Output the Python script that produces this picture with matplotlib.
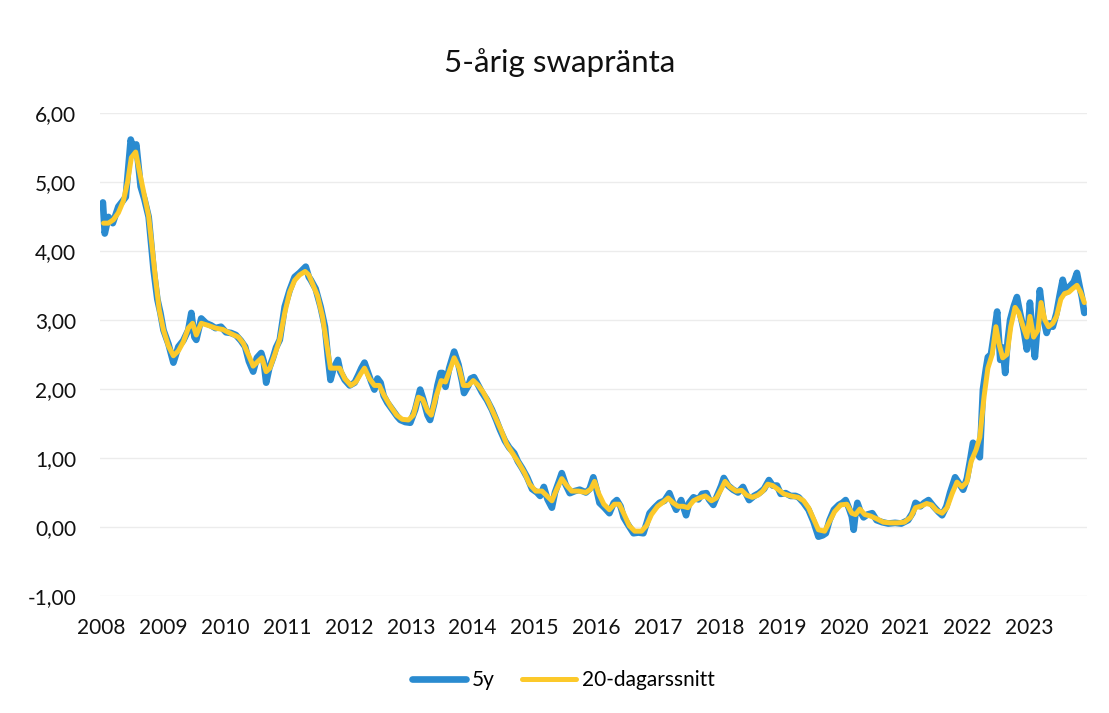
import matplotlib
matplotlib.use("Agg")
import matplotlib.pyplot as plt
from matplotlib.ticker import FuncFormatter

plt.rcParams.update({'font.family': ['Lato', 'DejaVu Sans'], 'font.size': 15})

# 5-year swap rate (decimal year, percent)
swap_years = [
    2008.02, 2008.05, 2008.11, 2008.18, 2008.27, 2008.34, 2008.39, 2008.43, 2008.47, 2008.52,
    2008.56, 2008.63, 2008.69, 2008.76, 2008.81, 2008.84, 2008.90, 2008.95, 2009.00, 2009.08,
    2009.16, 2009.24, 2009.32, 2009.40, 2009.45, 2009.50, 2009.53, 2009.61, 2009.69, 2009.77,
    2009.84, 2009.93, 2010.01, 2010.09, 2010.17, 2010.25, 2010.32, 2010.38, 2010.45, 2010.51,
    2010.58, 2010.62, 2010.66, 2010.71, 2010.77, 2010.82, 2010.88, 2010.96, 2011.04, 2011.12,
    2011.20, 2011.30, 2011.35, 2011.38, 2011.46, 2011.54, 2011.61, 2011.66, 2011.70, 2011.75,
    2011.82, 2011.86, 2011.93, 2012.01, 2012.09, 2012.15, 2012.20, 2012.25, 2012.32, 2012.36,
    2012.41, 2012.46, 2012.51, 2012.56, 2012.62, 2012.70, 2012.78, 2012.83, 2012.91, 2012.99,
    2013.07, 2013.15, 2013.20, 2013.27, 2013.31, 2013.38, 2013.43, 2013.48, 2013.51, 2013.56,
    2013.62, 2013.70, 2013.77, 2013.83, 2013.86, 2013.93, 2013.97, 2014.02, 2014.09, 2014.15,
    2014.23, 2014.31, 2014.38, 2014.44, 2014.52, 2014.59, 2014.67, 2014.73, 2014.80, 2014.88,
    2014.96, 2015.04, 2015.09, 2015.15, 2015.21, 2015.28, 2015.33, 2015.39, 2015.44, 2015.50,
    2015.57, 2015.65, 2015.73, 2015.83, 2015.89, 2015.95, 2016.00, 2016.05, 2016.13, 2016.21,
    2016.28, 2016.33, 2016.39, 2016.44, 2016.50, 2016.57, 2016.60, 2016.68, 2016.76, 2016.81,
    2016.86, 2016.94, 2017.02, 2017.10, 2017.18, 2017.24, 2017.29, 2017.37, 2017.45, 2017.50,
    2017.57, 2017.65, 2017.71, 2017.78, 2017.82, 2017.89, 2017.95, 2018.02, 2018.06, 2018.13,
    2018.21, 2018.29, 2018.37, 2018.42, 2018.47, 2018.55, 2018.63, 2018.71, 2018.79, 2018.85,
    2018.92, 2018.98, 2019.06, 2019.14, 2019.22, 2019.27, 2019.35, 2019.43, 2019.51, 2019.59,
    2019.66, 2019.71, 2019.77, 2019.84, 2019.92, 2019.98, 2020.03, 2020.08, 2020.13, 2020.16,
    2020.19, 2020.22, 2020.27, 2020.32, 2020.38, 2020.46, 2020.53, 2020.62, 2020.72, 2020.83,
    2020.93, 2021.04, 2021.11, 2021.16, 2021.24, 2021.30, 2021.37, 2021.45, 2021.53, 2021.59,
    2021.66, 2021.72, 2021.80, 2021.85, 2021.93, 2021.99, 2022.04, 2022.09, 2022.14, 2022.20,
    2022.25, 2022.30, 2022.33, 2022.38, 2022.43, 2022.48, 2022.53, 2022.57, 2022.61, 2022.65,
    2022.69, 2022.75, 2022.80, 2022.85, 2022.91, 2022.96, 2023.01, 2023.06, 2023.09, 2023.14,
    2023.17, 2023.22, 2023.28, 2023.33, 2023.38, 2023.44, 2023.49, 2023.54, 2023.59, 2023.65,
    2023.72, 2023.77, 2023.81, 2023.85, 2023.89,
]
swap_5y = [
    4.70, 4.25, 4.49, 4.40, 4.64, 4.72, 4.78, 5.20, 5.61, 5.45,
    5.54, 4.93, 4.75, 4.49, 4.00, 3.72, 3.30, 3.10, 2.85, 2.65,
    2.38, 2.61, 2.70, 2.85, 3.10, 2.75, 2.71, 3.02, 2.95, 2.92,
    2.88, 2.90, 2.82, 2.81, 2.78, 2.70, 2.61, 2.40, 2.25, 2.45,
    2.52, 2.40, 2.09, 2.30, 2.45, 2.60, 2.71, 3.19, 3.43, 3.62,
    3.68, 3.77, 3.62, 3.58, 3.45, 3.19, 2.90, 2.45, 2.13, 2.30,
    2.42, 2.25, 2.13, 2.05, 2.09, 2.20, 2.30, 2.38, 2.20, 2.10,
    1.99, 2.15, 2.09, 1.90, 1.80, 1.70, 1.60, 1.55, 1.52, 1.51,
    1.70, 1.99, 1.85, 1.62, 1.55, 1.80, 2.05, 2.23, 2.23, 2.03,
    2.30, 2.54, 2.35, 2.10, 1.94, 2.05, 2.15, 2.17, 2.05, 1.95,
    1.84, 1.70, 1.55, 1.41, 1.25, 1.15, 1.07, 0.95, 0.85, 0.72,
    0.55, 0.50, 0.45, 0.58, 0.40, 0.28, 0.50, 0.65, 0.78, 0.62,
    0.49, 0.52, 0.54, 0.50, 0.55, 0.72, 0.55, 0.35, 0.28, 0.20,
    0.35, 0.39, 0.30, 0.14, 0.05, -0.05, -0.09, -0.08, -0.09, 0.05,
    0.20, 0.28, 0.35, 0.38, 0.49, 0.35, 0.25, 0.39, 0.17, 0.35,
    0.43, 0.40, 0.48, 0.49, 0.40, 0.32, 0.45, 0.60, 0.71, 0.60,
    0.54, 0.50, 0.58, 0.48, 0.39, 0.45, 0.49, 0.55, 0.68, 0.60,
    0.60, 0.48, 0.49, 0.45, 0.45, 0.43, 0.35, 0.25, 0.08, -0.14,
    -0.12, -0.09, 0.10, 0.25, 0.32, 0.35, 0.39, 0.28, 0.15, -0.04,
    0.20, 0.35, 0.22, 0.14, 0.18, 0.20, 0.10, 0.07, 0.05, 0.06,
    0.05, 0.10, 0.20, 0.35, 0.30, 0.35, 0.39, 0.30, 0.22, 0.17,
    0.30, 0.50, 0.72, 0.65, 0.54, 0.70, 0.95, 1.22, 1.10, 1.01,
    1.99, 2.30, 2.46, 2.50, 2.80, 3.12, 2.42, 2.60, 2.23, 2.70,
    3.00, 3.20, 3.33, 3.10, 2.85, 2.57, 3.25, 2.70, 2.46, 3.00,
    3.43, 3.05, 2.81, 2.95, 2.90, 3.10, 3.35, 3.58, 3.40, 3.48,
    3.55, 3.68, 3.50, 3.33, 3.10,
]

# 20-day average
avg_years = [
    2008.03, 2008.11, 2008.19, 2008.27, 2008.35, 2008.42, 2008.48, 2008.55, 2008.61, 2008.69,
    2008.76, 2008.81, 2008.87, 2008.93, 2009.00, 2009.08, 2009.16, 2009.24, 2009.32, 2009.40,
    2009.47, 2009.53, 2009.61, 2009.72, 2009.84, 2009.96, 2010.09, 2010.21, 2010.29, 2010.37,
    2010.45, 2010.53, 2010.59, 2010.66, 2010.72, 2010.80, 2010.88, 2010.96, 2011.04, 2011.12,
    2011.20, 2011.29, 2011.35, 2011.41, 2011.49, 2011.57, 2011.64, 2011.70, 2011.78, 2011.85,
    2011.93, 2012.03, 2012.11, 2012.19, 2012.25, 2012.33, 2012.41, 2012.49, 2012.57, 2012.67,
    2012.77, 2012.86, 2012.96, 2013.04, 2013.12, 2013.19, 2013.27, 2013.33, 2013.41, 2013.49,
    2013.56, 2013.62, 2013.70, 2013.78, 2013.85, 2013.93, 2014.01, 2014.09, 2014.17, 2014.26,
    2014.36, 2014.46, 2014.55, 2014.65, 2014.75, 2014.84, 2014.92, 2015.02, 2015.12, 2015.20,
    2015.28, 2015.36, 2015.44, 2015.52, 2015.60, 2015.71, 2015.83, 2015.91, 2015.97, 2016.04,
    2016.12, 2016.21, 2016.29, 2016.37, 2016.45, 2016.53, 2016.62, 2016.73, 2016.81, 2016.89,
    2016.99, 2017.08, 2017.16, 2017.24, 2017.32, 2017.40, 2017.48, 2017.57, 2017.66, 2017.76,
    2017.86, 2017.94, 2018.02, 2018.08, 2018.16, 2018.26, 2018.35, 2018.43, 2018.52, 2018.61,
    2018.69, 2018.77, 2018.85, 2018.93, 2019.03, 2019.14, 2019.26, 2019.35, 2019.43, 2019.51,
    2019.59, 2019.69, 2019.77, 2019.85, 2019.95, 2020.05, 2020.13, 2020.19, 2020.26, 2020.34,
    2020.43, 2020.53, 2020.64, 2020.75, 2020.87, 2020.98, 2021.08, 2021.16, 2021.24, 2021.34,
    2021.42, 2021.50, 2021.59, 2021.67, 2021.75, 2021.83, 2021.91, 2021.99, 2022.06, 2022.14,
    2022.20, 2022.27, 2022.33, 2022.40, 2022.46, 2022.51, 2022.57, 2022.64, 2022.70, 2022.77,
    2022.83, 2022.90, 2022.96, 2023.01, 2023.07, 2023.14, 2023.19, 2023.25, 2023.31, 2023.38,
    2023.44, 2023.51, 2023.57, 2023.64, 2023.70, 2023.77, 2023.83, 2023.89,
]
avg_20d = [
    4.40, 4.40, 4.45, 4.55, 4.72, 5.00, 5.35, 5.43, 5.15, 4.80,
    4.50, 4.10, 3.60, 3.15, 2.85, 2.62, 2.48, 2.55, 2.68, 2.88,
    2.95, 2.78, 2.95, 2.92, 2.88, 2.86, 2.80, 2.75, 2.66, 2.50,
    2.33, 2.40, 2.45, 2.25, 2.30, 2.50, 2.72, 3.10, 3.40, 3.57,
    3.65, 3.70, 3.65, 3.52, 3.35, 3.05, 2.65, 2.30, 2.30, 2.30,
    2.15, 2.05, 2.10, 2.22, 2.30, 2.15, 2.05, 2.05, 1.90, 1.75,
    1.62, 1.56, 1.55, 1.62, 1.88, 1.85, 1.68, 1.62, 1.90, 2.12,
    2.10, 2.25, 2.45, 2.30, 2.05, 2.05, 2.12, 2.05, 1.95, 1.80,
    1.60, 1.40, 1.20, 1.06, 0.92, 0.78, 0.62, 0.52, 0.52, 0.45,
    0.38, 0.55, 0.70, 0.60, 0.52, 0.52, 0.50, 0.55, 0.66, 0.48,
    0.33, 0.25, 0.33, 0.33, 0.18, 0.02, -0.06, -0.06, 0.02, 0.18,
    0.30, 0.36, 0.42, 0.35, 0.30, 0.30, 0.28, 0.38, 0.42, 0.45,
    0.38, 0.42, 0.55, 0.66, 0.58, 0.52, 0.53, 0.46, 0.43, 0.46,
    0.52, 0.62, 0.60, 0.55, 0.48, 0.45, 0.43, 0.38, 0.28, 0.12,
    -0.04, -0.06, 0.08, 0.22, 0.32, 0.33, 0.20, 0.18, 0.26, 0.18,
    0.16, 0.12, 0.07, 0.06, 0.06, 0.07, 0.14, 0.28, 0.30, 0.34,
    0.32, 0.24, 0.20, 0.28, 0.48, 0.65, 0.58, 0.65, 0.95, 1.12,
    1.30, 1.90, 2.30, 2.50, 2.90, 2.65, 2.45, 2.50, 2.90, 3.18,
    3.10, 2.90, 2.75, 3.05, 2.75, 2.85, 3.25, 3.00, 2.90, 2.95,
    3.05, 3.30, 3.38, 3.40, 3.45, 3.50, 3.40, 3.25,
]

year_ticks = list(range(2008, 2024))
value_ticks = [-1, 0, 1, 2, 3, 4, 5, 6]

BLUE = "#2a8bd0"
YELLOW = "#fcc92a"


def main():
    fig = plt.figure(figsize=(11.09, 7.13), dpi=100)
    ax = fig.add_axes([0.090, 0.164, 0.890, 0.678])

    ax.plot(swap_years, swap_5y, color=BLUE, lw=4.8, solid_joinstyle="round",
            solid_capstyle="round", label="5y")
    ax.plot(avg_years, avg_20d, color=YELLOW, lw=3.6, solid_joinstyle="round",
            solid_capstyle="round", label="20-dagarssnitt")

    ax.set_xlim(2007.97, 2023.93)
    ax.set_ylim(-1, 6)
    ax.set_xticks(year_ticks)
    ax.set_yticks(value_ticks)
    ax.yaxis.set_major_formatter(FuncFormatter(lambda v, p: f"{v:.2f}".replace(".", ",")))
    ax.tick_params(length=0, labelcolor="#111111")
    ax.tick_params(axis="y", pad=17)
    ax.tick_params(axis="x", pad=16)

    ax.grid(axis="y", color="#ececec", lw=1)
    ax.set_axisbelow(True)
    for side in ax.spines.values():
        side.set_visible(False)

    fig.text(0.505, 0.913, "5-årig swapränta", ha="center", va="center",
             fontsize=22.5, color="#111111")

    fig.legend(loc="center", bbox_to_anchor=(0.508, 0.046), ncol=2, frameon=False,
               handlelength=2.6, handletextpad=0.3, columnspacing=1.3)

    fig.savefig("out.png", dpi=100)
    plt.close(fig)


if __name__ == "__main__":
    main()
